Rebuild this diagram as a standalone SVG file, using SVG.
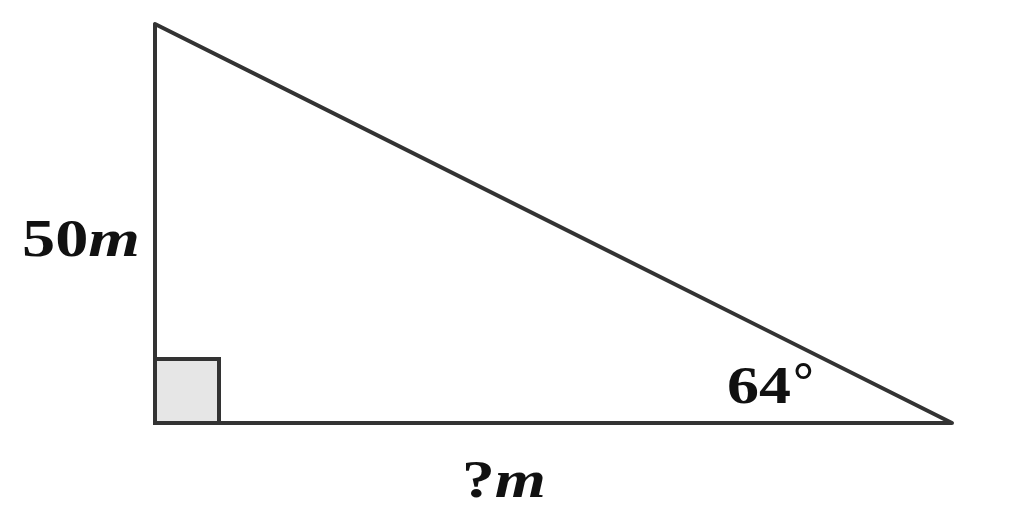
<svg xmlns="http://www.w3.org/2000/svg" width="1024" height="527" viewBox="0 0 1024 527">
<style>
.edge{fill:none;stroke:#333;stroke-width:4;stroke-linejoin:round;stroke-linecap:round}
.lbl{font-family:"Liberation Serif","DejaVu Serif",serif;font-weight:bold;font-size:52px;fill:#111}
.it{font-style:italic}
</style>
<rect width="1024" height="527" fill="#fff"/>
<g id="right-angle"><rect x="155" y="359" width="64" height="64" fill="#e6e6e6" stroke="#333" stroke-width="4"/></g>
<g id="connectors">
<path class="edge" d="M155 24 L155 423 L952 423 Z"/>
</g>
<g id="label-50m"><text class="lbl" x="22" y="256" textLength="118" lengthAdjust="spacingAndGlyphs">50<tspan class="it">m</tspan></text></g>
<g id="label-64"><text class="lbl" x="727" y="403" textLength="64" lengthAdjust="spacingAndGlyphs">64</text><text class="lbl" x="793" y="398" font-size="44" font-weight="normal">°</text></g>
<g id="label-qm"><text class="lbl" x="462" y="497" textLength="84" lengthAdjust="spacingAndGlyphs">?<tspan class="it">m</tspan></text></g>
</svg>
